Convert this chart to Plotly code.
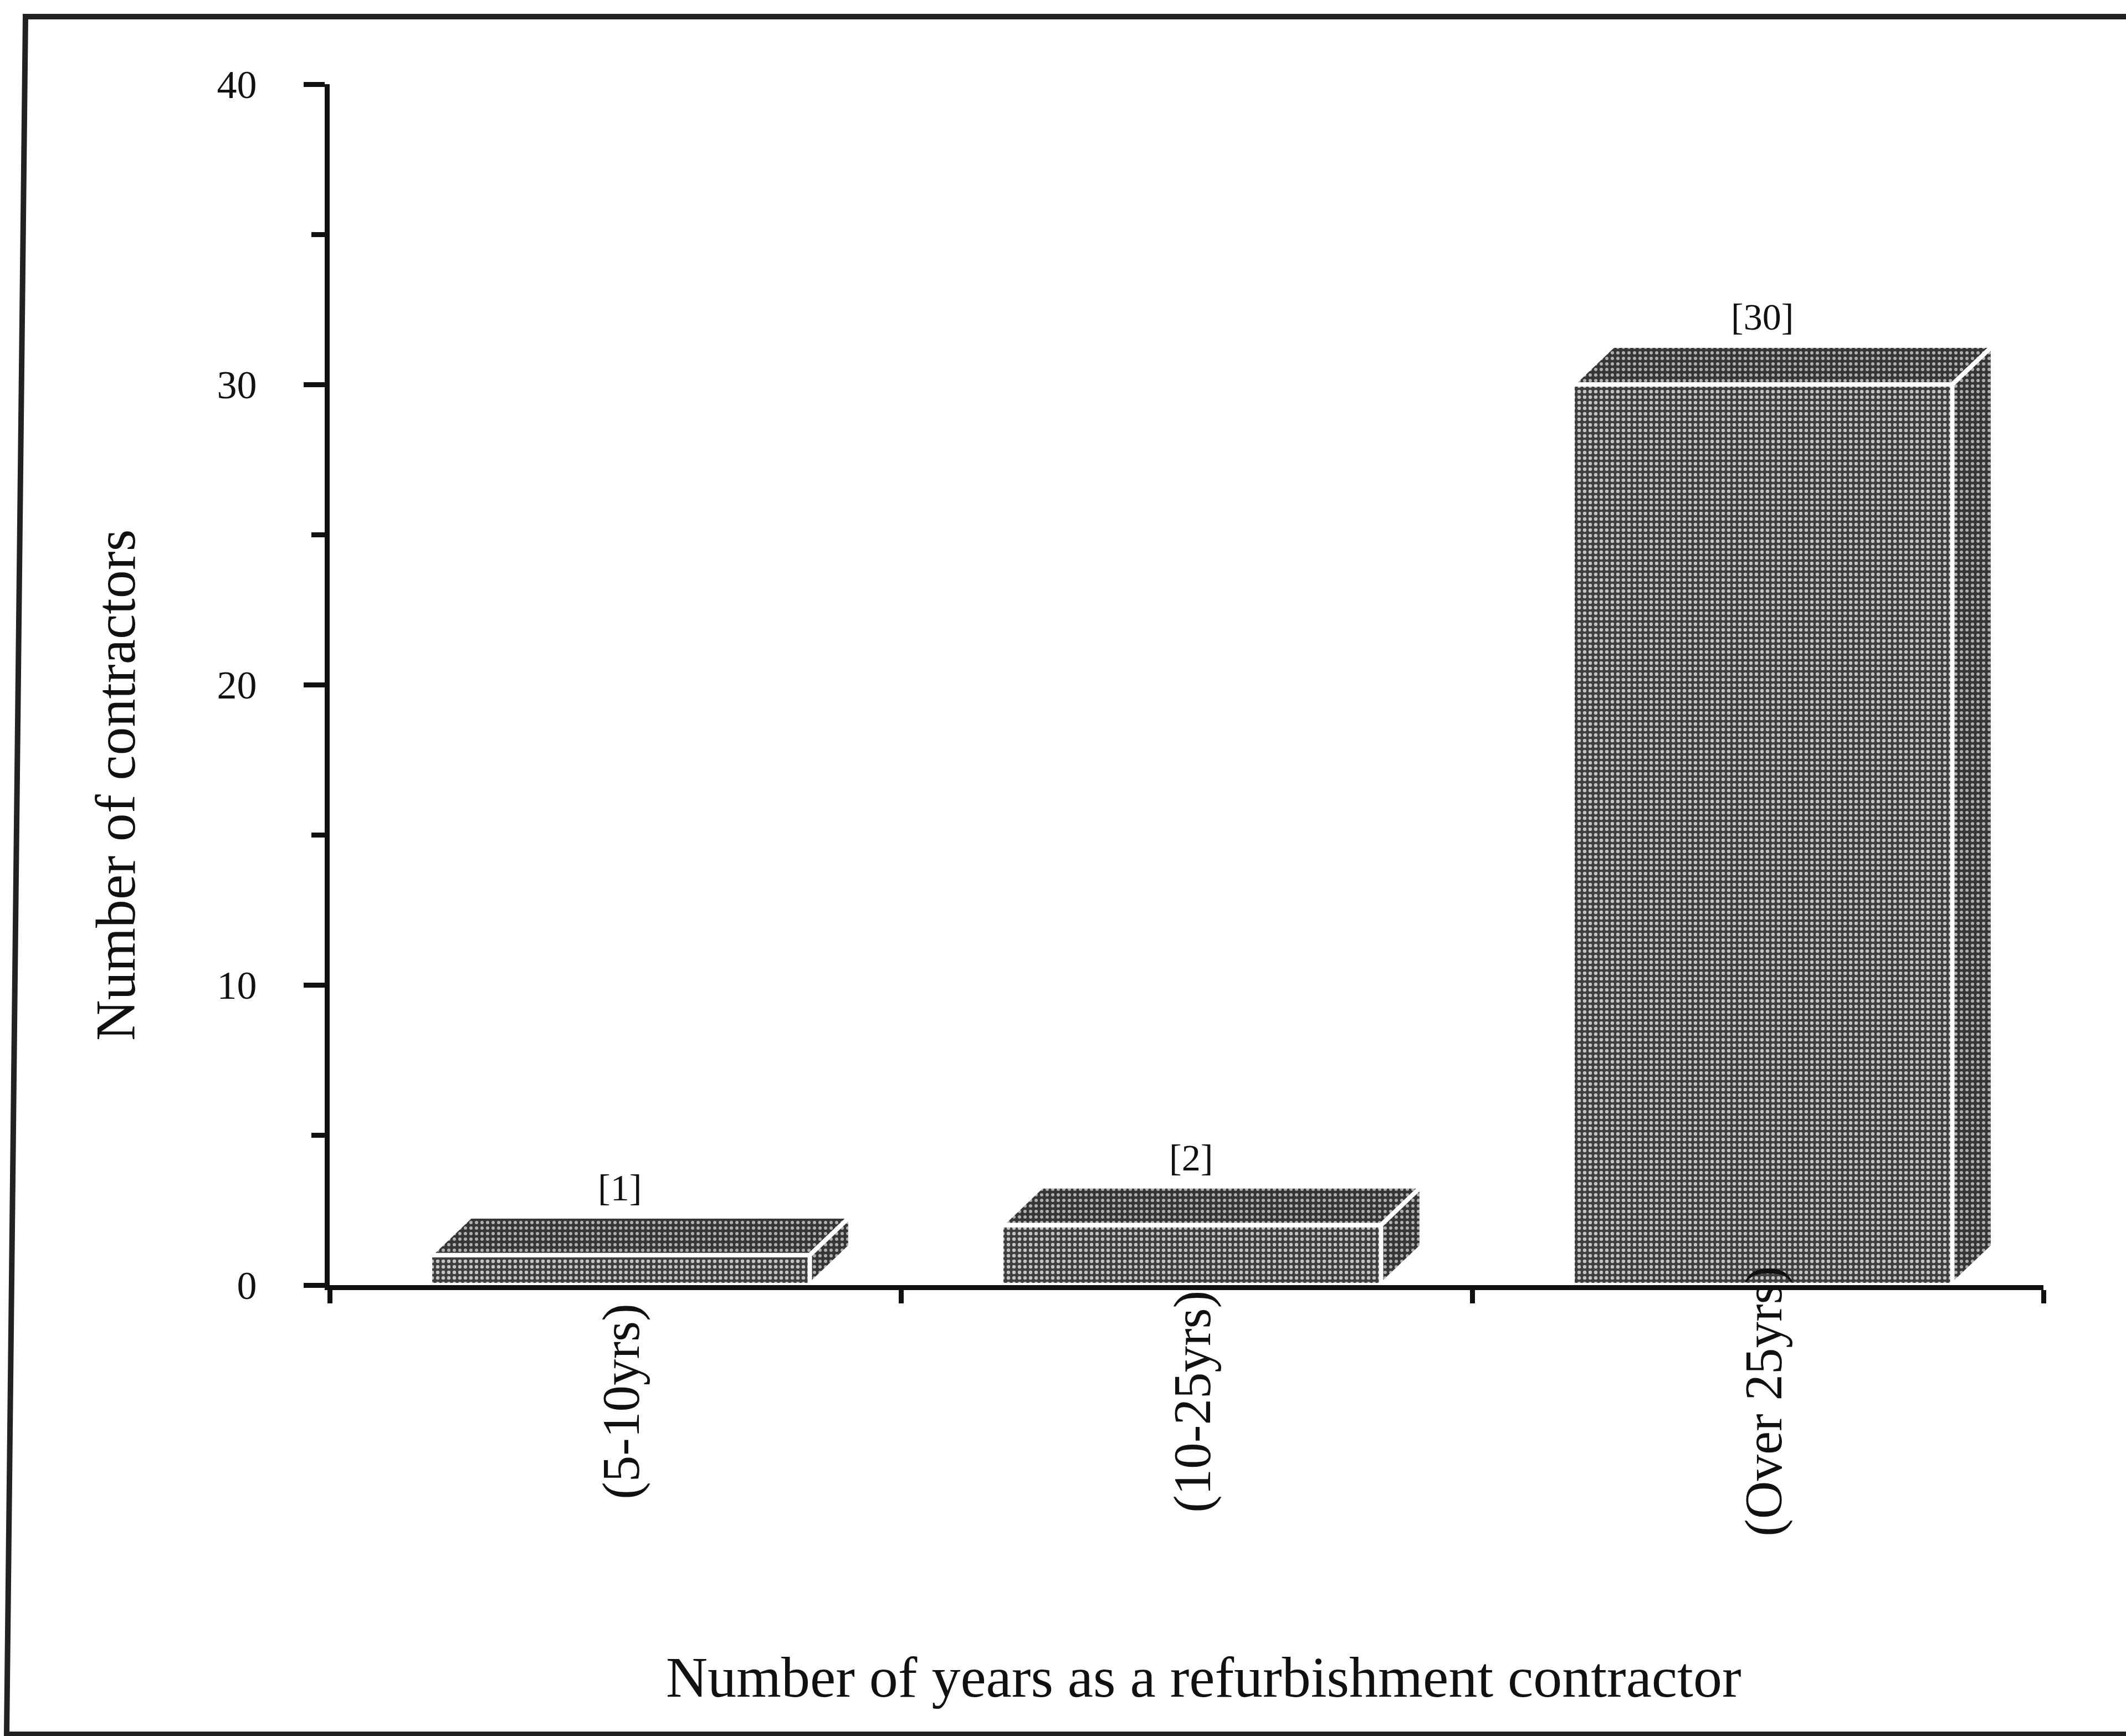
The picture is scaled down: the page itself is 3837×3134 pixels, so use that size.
import plotly.graph_objects as go

# ---- data ----
categories = ["(5-10yrs)", "(10-25yrs)", "(Over 25yrs)"]
contractors = [1, 2, 30]
value_labels = ["[1]", "[2]", "[30]"]
y_ticks = [0, 10, 20, 30, 40]
x_title = "Number of years as a refurbishment contractor"
y_title = "Number of contractors"

# ---- geometry / style ----
W, H = 3837, 3134
ML, MR, MT, MB = 595, 149, 152, 814
PW, PH = W - ML - MR, H - MT - MB
FONT = "Liberation Serif"
BAR_W = 0.665
BAR_SHIFT = 0.008
DX, DY = 0.071, 1.29   # pseudo-3D depth offsets (x units, y units)
OUT = "white"
OUT_W = 8
FRONT_PAT = dict(shape=".", bgcolor="#3e3e3e", fgcolor="#c4c4c4",
                 size=10, solidity=0.32, fillmode="replace")
DEPTH_PAT = dict(shape=".", bgcolor="#363636", fgcolor="#b0b0b0",
                 size=10, solidity=0.28, fillmode="replace")


def px2paper_x(px):
    return (px - ML) / PW


def px2paper_y(py):
    return (H - MB - py) / PH


xs = [i + BAR_SHIFT for i in range(len(categories))]

fig = go.Figure()

# front faces
fig.add_trace(go.Bar(
    x=xs, y=contractors, width=BAR_W,
    marker=dict(
        color="#666666",
        line=dict(color=OUT, width=OUT_W),
        pattern=FRONT_PAT,
    ),
    hoverinfo="skip", showlegend=False,
))

# top & side faces derived from values
for xc, v in zip(xs, contractors):
    x0, x1 = xc - BAR_W / 2, xc + BAR_W / 2
    fig.add_trace(go.Scatter(
        x=[x0, x1, x1 + DX, x0 + DX, x0],
        y=[v, v, v + DY, v + DY, v],
        mode="lines", fill="toself",
        line=dict(color=OUT, width=OUT_W),
        fillcolor="#555555", fillpattern=DEPTH_PAT,
        hoverinfo="skip", showlegend=False,
    ))
    fig.add_trace(go.Scatter(
        x=[x1, x1 + DX, x1 + DX, x1, x1],
        y=[0, DY, v + DY, v, 0],
        mode="lines", fill="toself",
        line=dict(color=OUT, width=OUT_W),
        fillcolor="#555555", fillpattern=DEPTH_PAT,
        hoverinfo="skip", showlegend=False,
    ))

annotations = []
# value labels
for xc, v, lab in zip(xs, contractors, value_labels):
    annotations.append(dict(
        x=xc, y=v + DY, xref="x", yref="y", text=lab,
        showarrow=False, yanchor="bottom", yshift=12,
        font=dict(family=FONT, size=68, color="#111"),
    ))
# category labels (rotated, centred)
for i, cat in enumerate(categories):
    annotations.append(dict(
        x=i + 0.01, y=px2paper_y(2530), xref="x", yref="paper", text=cat,
        showarrow=False, textangle=-90, xanchor="center", yanchor="middle",
        font=dict(family=FONT, size=95, color="#111"),
    ))
# axis titles
annotations.append(dict(
    x=px2paper_x(2172), y=px2paper_y(3027), xref="paper", yref="paper",
    text=x_title, showarrow=False, xanchor="center", yanchor="middle",
    font=dict(family=FONT, size=104, color="#111"),
))
annotations.append(dict(
    x=px2paper_x(208), y=px2paper_y(1418), xref="paper", yref="paper",
    text=y_title, showarrow=False, textangle=-90,
    xanchor="center", yanchor="middle",
    font=dict(family=FONT, size=102, color="#111"),
))

# scanned frame (slightly skewed left edge, right edge off page)
fx_r = px2paper_x(W + 30)
frame_path = (
    f"M {fx_r} {px2paper_y(30)} "
    f"L {px2paper_x(46)} {px2paper_y(30)} "
    f"L {px2paper_x(12)} {px2paper_y(3131)} "
    f"L {fx_r} {px2paper_y(3131)}"
)
shapes = [dict(type="path", xref="paper", yref="paper", path=frame_path,
               line=dict(color="#222", width=10))]

n = len(categories)
fig.update_layout(
    width=W, height=H,
    margin=dict(l=ML, r=MR, t=MT, b=MB, pad=0),
    paper_bgcolor="white", plot_bgcolor="white",
    showlegend=False,
    annotations=annotations,
    shapes=shapes,
    bargap=0,
    xaxis=dict(
        range=[-0.5, n - 0.5],
        tickvals=[k - 0.5 for k in range(n + 1)],
        showticklabels=False,
        ticks="outside", ticklen=24, tickwidth=9, tickcolor="#111",
        showline=True, linecolor="#111", linewidth=9,
        showgrid=False, zeroline=False, layer="below traces",
        fixedrange=True,
    ),
    yaxis=dict(
        range=[0, 40],
        tickvals=y_ticks,
        ticks="outside", ticklen=38, tickwidth=9, tickcolor="#111",
        minor=dict(dtick=5, ticks="outside", ticklen=24, tickwidth=9, tickcolor="#111"),
        showline=True, linecolor="#111", linewidth=9,
        showgrid=False, zeroline=False,
        tickfont=dict(family=FONT, size=72, color="#111"),
        ticklabelstandoff=70,
        layer="below traces",
        fixedrange=True,
    ),
)

fig.write_html("out.html")
